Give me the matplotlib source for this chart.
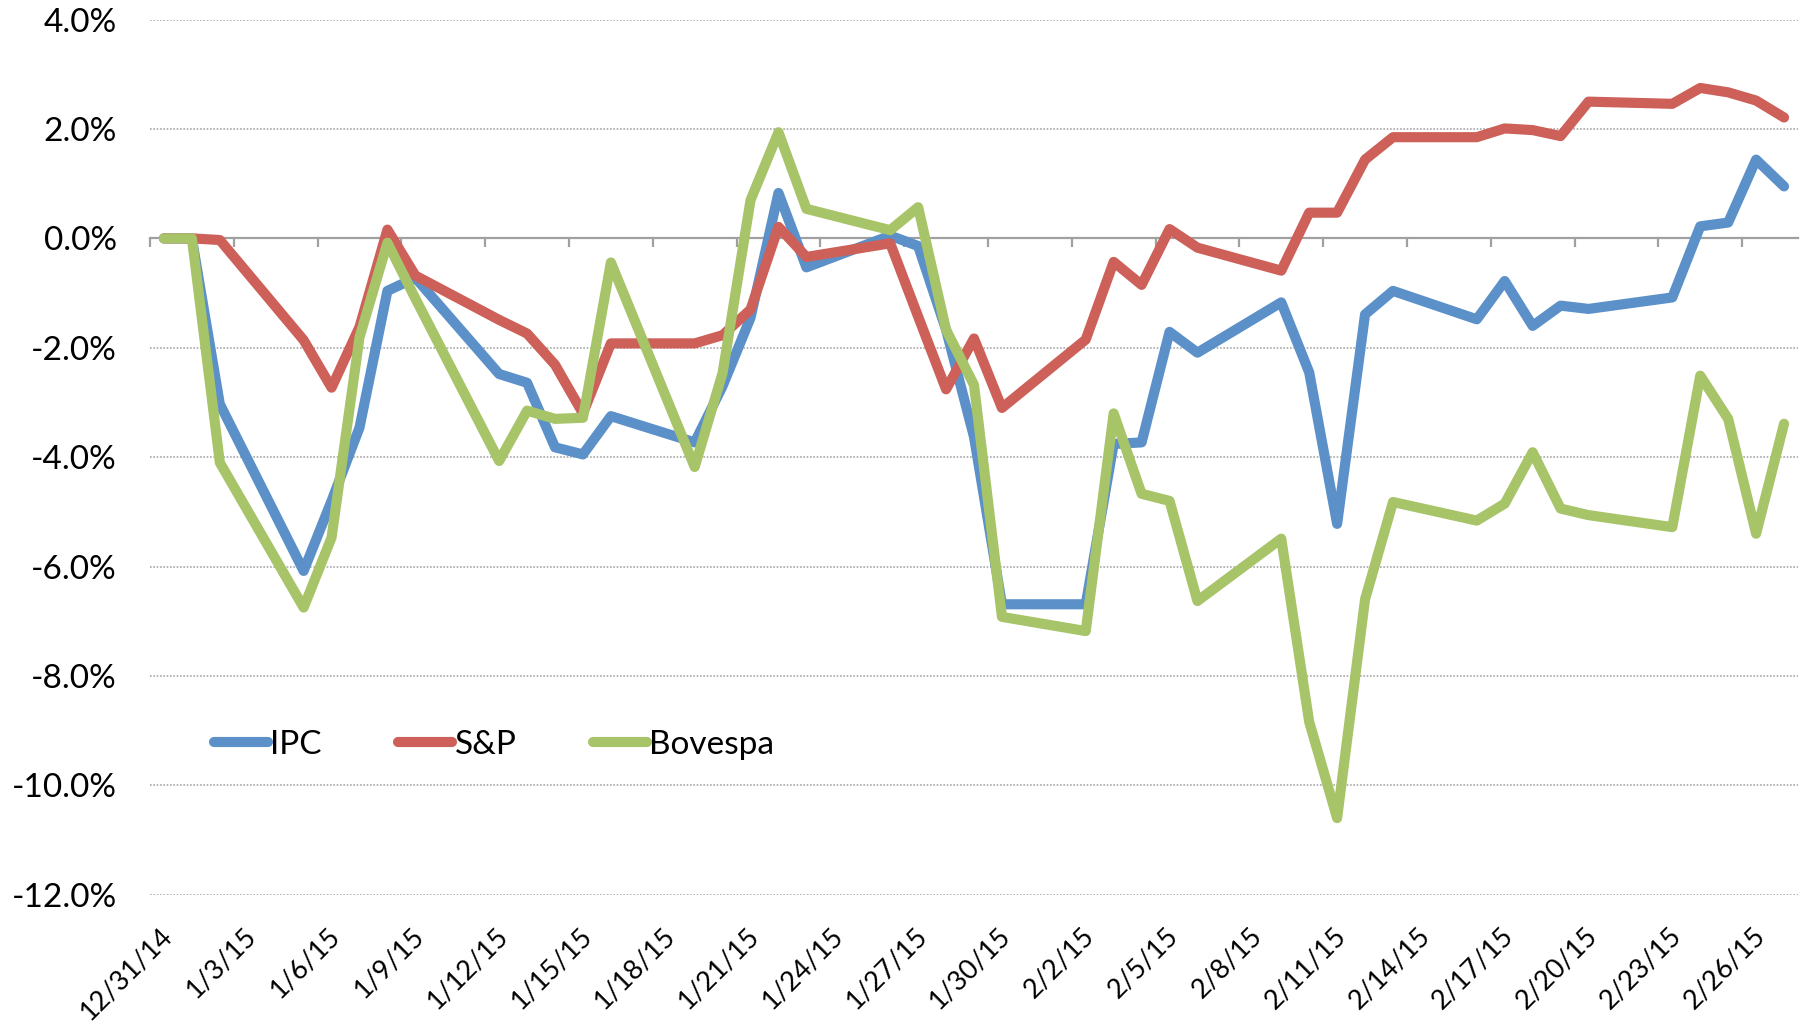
import matplotlib
matplotlib.use("Agg")
import matplotlib.pyplot as plt
import matplotlib.transforms as mtransforms
import pandas as pd
import numpy as np

plt.rcParams['font.family'] = ['Lato', 'DejaVu Sans']

# ---------------- data ----------------
dates = ['2014-12-31', '2015-01-01', '2015-01-02', '2015-01-05', '2015-01-06', '2015-01-07',
         '2015-01-08', '2015-01-09', '2015-01-12', '2015-01-13', '2015-01-14', '2015-01-15',
         '2015-01-16', '2015-01-19', '2015-01-20', '2015-01-21', '2015-01-22', '2015-01-23',
         '2015-01-26', '2015-01-27', '2015-01-28', '2015-01-29', '2015-01-30', '2015-02-02',
         '2015-02-03', '2015-02-04', '2015-02-05', '2015-02-06', '2015-02-09', '2015-02-10',
         '2015-02-11', '2015-02-12', '2015-02-13', '2015-02-16', '2015-02-17', '2015-02-18',
         '2015-02-19', '2015-02-20', '2015-02-23', '2015-02-24', '2015-02-25', '2015-02-26',
         '2015-02-27']

ipc = [0.00, 0.00, -3.03, -6.08, -4.80, -3.46, -0.96, -0.72, -2.48, -2.64, -3.82, -3.95,
       -3.25, -3.73, -2.70, -1.45, 0.83, -0.53, 0.05, -0.14, -1.67, -3.63, -6.69, -6.69,
       -3.76, -3.73, -1.71, -2.09, -1.17, -2.45, -5.22, -1.39, -0.96, -1.48, -0.78, -1.60,
       -1.23, -1.29, -1.08, 0.22, 0.29, 1.44, 0.95]

sp = [0.00, 0.00, -0.03, -1.86, -2.73, -1.62, 0.16, -0.68, -1.49, -1.74, -2.31, -3.20,
      -1.92, -1.92, -1.77, -1.30, 0.21, -0.34, -0.09, -1.43, -2.76, -1.83, -3.10, -1.85,
      -0.43, -0.85, 0.17, -0.17, -0.59, 0.47, 0.47, 1.44, 1.85, 1.85, 2.01, 1.98,
      1.87, 2.50, 2.46, 2.75, 2.67, 2.52, 2.21]

bovespa = [0.00, 0.00, -4.10, -6.75, -5.47, -1.81, -0.08, -1.10, -4.07, -3.15, -3.30, -3.28,
           -0.44, -4.18, -2.46, 0.70, 1.94, 0.54, 0.15, 0.57, -1.67, -2.68, -6.92, -7.18,
           -3.20, -4.67, -4.80, -6.63, -5.49, -8.84, -10.60, -6.60, -4.82, -5.16, -4.85, -3.91,
           -4.94, -5.06, -5.28, -2.51, -3.30, -5.40, -3.39]

series_names = ['IPC', 'S&P', 'Bovespa']
colors = ['#5B90C9', '#CD6058', '#A7C469']

tick_labels = ['12/31/14', '1/3/15', '1/6/15', '1/9/15', '1/12/15', '1/15/15', '1/18/15',
               '1/21/15', '1/24/15', '1/27/15', '1/30/15', '2/2/15', '2/5/15', '2/8/15',
               '2/11/15', '2/14/15', '2/17/15', '2/20/15', '2/23/15', '2/26/15']
y_ticks = [-12, -10, -8, -6, -4, -2, 0, 2, 4]

# ---------------- positions ----------------
start = pd.Timestamp(dates[0])
x = np.array((pd.to_datetime(dates) - start).days, dtype=float)
label_x = np.array((pd.to_datetime(tick_labels, format='%m/%d/%y') - start).days, dtype=float)
mark_x = label_x - 0.5

# ---------------- figure ----------------
fig = plt.figure(figsize=(18.08, 10.25), dpi=100)
ax = fig.add_axes([150 / 1808, 1 - 894.7 / 1025, 1648 / 1808, 875.1 / 1025])

for vals, name, c in zip([ipc, sp, bovespa], series_names, colors):
    ax.plot(x, vals, color=c, lw=7.3, label=name, solid_capstyle='round',
            solid_joinstyle='round', zorder=3)

ax.set_xlim(-0.5, x[-1] + 0.5)
ax.set_ylim(-12, 4)

# y axis
ax.set_yticks(y_ticks)
ax.set_yticklabels([f'{v:.1f}%' for v in y_ticks])
ax.tick_params(axis='y', length=0, pad=24, labelsize=24)
ax.yaxis.grid(True, linestyle=(0, (1, 1)), color='#A8A8A8', lw=1.2, zorder=1)

for s in ['left', 'right', 'top']:
    ax.spines[s].set_visible(False)

# x axis line at zero with tick marks
ax.spines['bottom'].set_position(('data', 0))
ax.spines['bottom'].set_color('#A0A0A0')
ax.spines['bottom'].set_linewidth(1.6)
ax.spines['bottom'].set_zorder(2.5)
ax.set_xticks(mark_x)
ax.tick_params(axis='x', direction='out', length=6.5, width=1.6, color='#A0A0A0',
               labelbottom=False)

# date labels at the bottom
sec = ax.secondary_xaxis('bottom')
sec.set_xticks(label_x)
sec.set_xticklabels(tick_labels)
sec.tick_params(axis='x', length=0, pad=26.5, labelsize=19.5)
for s in sec.spines.values():
    s.set_visible(False)
shift = mtransforms.ScaledTranslation(3.5 / 72, 0, fig.dpi_scale_trans)
for lab in sec.get_xticklabels():
    lab.set_rotation(45)
    lab.set_ha('right')
    lab.set_va('center')
    lab.set_rotation_mode('anchor')
    lab.set_transform(lab.get_transform() + shift)

leg = ax.legend(loc='center left', bbox_to_anchor=(0.039, 0.171), ncol=3, frameon=False,
                fontsize=24, handlelength=1.62, handletextpad=0.06, columnspacing=2.3,
                borderpad=0, borderaxespad=0)

fig.savefig('out.png', dpi=100)
